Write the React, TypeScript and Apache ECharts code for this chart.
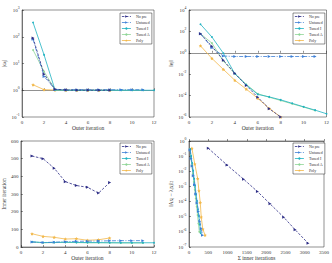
import React, { useEffect, useRef } from "react";
import * as echarts from "echarts";

const methodNames = ["No pre", "Untuned", "Tuned I", "Tuned A", "Poly"];
const methodColors = ["#2d2d86", "#3b7ed6", "#20b2c2", "#8ed596", "#f2b84a"];

// Panel 1: |omega_j| per outer iteration
const p1NoPre = [90, 4, 1.1, 1.02, 1.01, 1.01, 1.0, 1.0];
const p1Untuned = [80, 3.3, 1.07, 1.05, 1.05, 1.05, 1.05, 1.05, 1.05, 1.05, 1.05];
const p1TunedI = [340, 21, 1.02, 1.0, 1.0, 1.0, 1.0, 1.0, 1.0, 1.0, 1.0, 1.0];
const p1TunedA = [32, 5, 1.05, 1.0, 1.0, 1.0, 1.0, 1.0, 1.0, 1.0, 1.0];
const p1Poly = [1.6, 1.05, 1.02, 1.0, 1.0, 1.0, 1.0, 1.0];

// Panel 2: error per outer iteration
const p2NoPre = [60, 4, 0.2, 0.012, 9e-4, 7e-5, 6e-6, 1e-6];
const p2Untuned = [60, 3, 0.5, 0.45, 0.45, 0.45, 0.45, 0.45, 0.45, 0.45, 0.45];
const p2TunedI = [470, 30, 0.9, 0.011, 1e-3, 1.3e-4, 7.6e-5, 4e-5, 1.9e-5, 9e-6, 4.4e-6, 2e-6];
const p2TunedA = [60, 8, 0.17, 0.011, 1.1e-3, 1.5e-4, 7e-5, 3.5e-5, 1.7e-5, 8.5e-6, 4e-6];
const p2Poly = [4.5, 0.3, 0.028, 2.7e-3, 4e-4, 5.6e-5, 6.3e-6, 1e-6];

// Panel 3: inner iterations per outer iteration
const p3NoPre = [515, 500, 446, 370, 348, 338, 305, 365];
const p3Untuned = [28, 25, 27, 30, 32, 33, 34, 35, 36, 36, 36];
const p3TunedI = [30, 25, 26, 27, 26, 25, 25, 24, 24, 24, 24, 24];
const p3TunedA = [27, 24, 25, 26, 25, 24, 24, 24, 23, 23, 23];
const p3Poly = [75, 60, 55, 45, 47, 38, 41, 51];

// Panel 4: residual vs cumulative inner iterations
const p4NoPreX = [500, 985, 1415, 1775, 2100, 2455, 2750, 3085];
const p4NoPreY = [0.33, 0.026, 3.0e-3, 4.6e-4, 7.1e-5, 9.3e-6, 1.4e-6, 1.8e-7];
const p4UntunedX = [28, 53, 80, 110, 142, 175, 209, 244, 280, 316, 350];
const p4UntunedY = [0.25, 0.07, 0.022, 5e-3, 1.3e-3, 3.2e-4, 8e-5, 2.2e-5, 5e-6, 1.6e-6, 6e-7];
const p4TunedIX = [30, 55, 81, 108, 134, 159, 184, 208, 232, 256, 280, 304];
const p4TunedIY = [0.3, 0.1, 0.035, 0.011, 3.2e-3, 1.1e-3, 3e-4, 1.1e-4, 3e-5, 1.1e-5, 3e-6, 8e-7];
const p4TunedAX = [27, 51, 76, 102, 127, 151, 175, 199, 222, 245, 268];
const p4TunedAY = [0.3, 0.08, 0.025, 7e-3, 2e-3, 6e-4, 1.6e-4, 4.5e-5, 1.3e-5, 3.5e-6, 1e-6];
const p4PolyX = [75, 150, 225, 258, 292, 317, 358, 417];
const p4PolyY = [0.33, 0.03, 3.3e-3, 5.1e-4, 8.7e-5, 9.5e-6, 1.5e-6, 6e-7];

const FONT = "Liberation Serif";
const STAR =
  "path://M0,-1L0.29,-0.4L0.95,-0.31L0.47,0.15L0.59,0.81L0,0.5L-0.59,0.81L-0.47,0.15L-0.95,-0.31L-0.29,-0.4Z";

const lineTypes: any[] = [[2.5, 1.5], [4, 1.5, 1, 1.5], "solid", "solid", "solid"];
const symbols = ["triangle", "triangle", "circle", "circle", STAR];
const symbolRotates = [-90, -90, 0, 0, 0];
const symbolSizes = [3, 3, 1.8, 1.8, 3.5];

function idxPairs(vals: number[], log: boolean) {
  return vals.map((v, i) => [i + 1, log ? Math.log10(v) : v]);
}
function xyPairs(xs: number[], ys: number[]) {
  return xs.map((x, i) => [x, Math.log10(ys[i])]);
}

const supLabel = (v: number) => `10{sup|${Math.round(v)}}`;
const labelRich = {
  sup: { fontSize: 3.8, fontFamily: FONT, color: "#333", padding: [0, 0, 4, 0] },
};

export default function App() {
  const ref = useRef<HTMLDivElement>(null);
  useEffect(() => {
    if (!ref.current) return;
    const chart = echarts.init(ref.current, undefined, { renderer: "svg" });

    const grids = [
      { left: 17, top: 10, width: 137, height: 107 },
      { left: 189, top: 10, width: 138, height: 107 },
      { left: 17, top: 141, width: 137, height: 106 },
      { left: 189, top: 141, width: 138, height: 106 },
    ].map((g) => ({ ...g, show: true, borderColor: "#222", borderWidth: 0.5, backgroundColor: "#fff" }));

    const axisCommon = {
      axisLine: { show: true, lineStyle: { color: "#222", width: 0.5 } },
      axisTick: { show: true, inside: true, length: 2, lineStyle: { color: "#222", width: 0.5 } },
      splitLine: { show: false },
      axisLabel: { fontSize: 5, fontFamily: FONT, color: "#333", margin: 2.5 },
      nameTextStyle: { fontSize: 5.5, fontFamily: FONT, color: "#333" },
      nameLocation: "middle" as const,
    };
    const subRich = { sub: { fontSize: 3.8, fontFamily: FONT, color: "#333", padding: [3, 0, 0, 0] } };

    const xAxes: any[] = [0, 1, 2].map((g) => ({
      ...axisCommon,
      type: "value",
      gridIndex: g,
      min: 0,
      max: 12,
      interval: 2,
      name: "Outer iteration",
      nameGap: 8,
    }));
    xAxes.push({
      ...axisCommon,
      type: "value",
      gridIndex: 3,
      min: 0,
      max: 3500,
      interval: 500,
      axisLabel: { ...axisCommon.axisLabel, formatter: (v: number) => String(v) },
      name: "Σ inner iterations",
      nameGap: 8,
    });

    const yAxes = [
      {
        ...axisCommon,
        type: "value",
        gridIndex: 0,
        min: -1,
        max: 3,
        interval: 1,
        axisLabel: { ...axisCommon.axisLabel, formatter: supLabel, rich: labelRich },
        name: "|ω{sub|j}|",
        nameGap: 11,
        nameTextStyle: { ...axisCommon.nameTextStyle, rich: subRich },
      },
      {
        ...axisCommon,
        type: "value",
        gridIndex: 1,
        min: -6,
        max: 4,
        interval: 2,
        axisLabel: { ...axisCommon.axisLabel, formatter: supLabel, rich: labelRich },
        name: "‖e{sub|j}‖",
        nameGap: 13,
        nameTextStyle: { ...axisCommon.nameTextStyle, rich: subRich },
      },
      {
        ...axisCommon,
        type: "value",
        gridIndex: 2,
        min: 0,
        max: 600,
        interval: 100,
        name: "Inner iteration",
        nameGap: 11,
      },
      {
        ...axisCommon,
        type: "value",
        gridIndex: 3,
        min: -7,
        max: 0,
        interval: 1,
        axisLabel: { ...axisCommon.axisLabel, formatter: supLabel, rich: labelRich },
        name: "‖Ax{sub|j} − λ{sub|j}x{sub|j}‖{sub|2}",
        nameGap: 13,
        nameTextStyle: { ...axisCommon.nameTextStyle, rich: subRich },
      },
    ];

    const panelData = [
      [p1NoPre, p1Untuned, p1TunedI, p1TunedA, p1Poly].map((a) => idxPairs(a, true)),
      [p2NoPre, p2Untuned, p2TunedI, p2TunedA, p2Poly].map((a) => idxPairs(a, true)),
      [p3NoPre, p3Untuned, p3TunedI, p3TunedA, p3Poly].map((a) => idxPairs(a, false)),
      [
        xyPairs(p4NoPreX, p4NoPreY),
        xyPairs(p4UntunedX, p4UntunedY),
        xyPairs(p4TunedIX, p4TunedIY),
        xyPairs(p4TunedAX, p4TunedAY),
        xyPairs(p4PolyX, p4PolyY),
      ],
    ];

    const series: any[] = [];
    panelData.forEach((sets, p) => {
      sets.forEach((data, m) => {
        series.push({
          type: "line",
          name: methodNames[m],
          xAxisIndex: p,
          yAxisIndex: p,
          data,
          color: methodColors[m],
          symbol: symbols[m],
          symbolRotate: symbolRotates[m],
          symbolSize: symbolSizes[m],
          showSymbol: true,
          lineStyle: { width: 0.8, type: lineTypes[m], color: methodColors[m] },
          itemStyle: { color: methodColors[m] },
          z: 10 - m,
        });
      });
    });

    const legendPos = [
      { left: 120, top: 13 },
      { left: 293, top: 13 },
      { left: 120, top: 143 },
      { left: 293, top: 143 },
    ];
    const legends = legendPos.map((pos) => ({
      ...pos,
      orient: "vertical",
      data: methodNames,
      itemWidth: 9,
      itemHeight: 3,
      itemGap: 2,
      padding: [1.5, 2, 1.5, 1.5],
      borderColor: "#222",
      borderWidth: 0.5,
      backgroundColor: "#fff",
      lineStyle: { width: 0.8 },
      itemStyle: { borderWidth: 0 },
      textStyle: { fontSize: 4, fontFamily: FONT, color: "#333" },
      selectedMode: false,
    }));

    chart.setOption({
      animation: false,
      backgroundColor: "#fff",
      grid: grids,
      xAxis: xAxes,
      yAxis: yAxes,
      legend: legends,
      series,
    });
    return () => chart.dispose();
  }, []);
  return (
    <div
      ref={ref}
      style={{ position: "fixed", left: 0, top: 0, width: 332, height: 263, background: "#fff" }}
    />
  );
}
